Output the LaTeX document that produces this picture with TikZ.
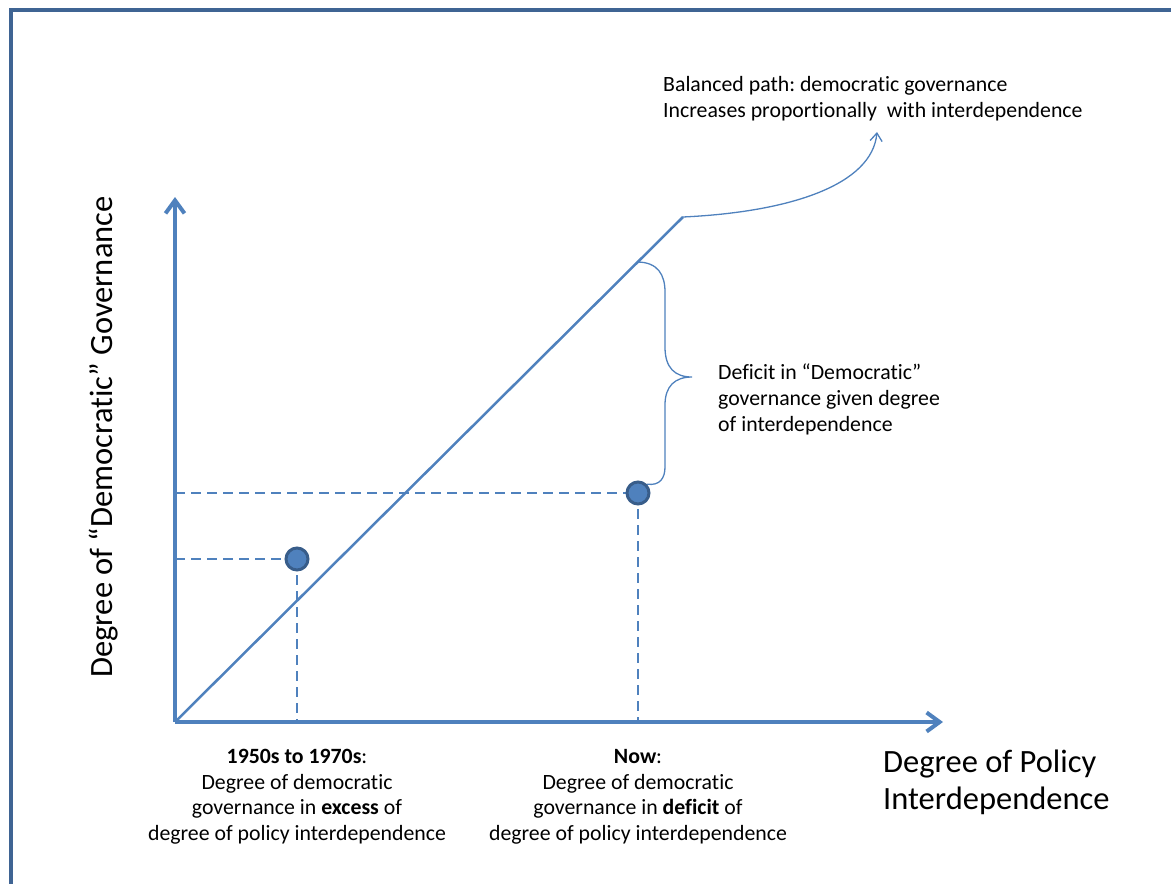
\documentclass[tikz,border=0pt]{standalone}
\usepackage{fontspec}
\setmainfont{Carlito}[Ligatures=NoCommon]
\frenchspacing
\usetikzlibrary{arrows.meta, positioning}
\definecolor{axisblue}{HTML}{4F81BD}
\definecolor{dotedge}{HTML}{385D8A}
\definecolor{frameblue}{HTML}{3F6493}

\begin{document}
\begin{tikzpicture}[x=1pt, y=-1pt,
  axis/.style={draw=axisblue, line width=4pt,
    -{Straight Barb[length=13pt, width=19pt, line width=4pt]}},
  guide/.style={draw=axisblue, line width=2.8pt, dash pattern=on 10pt off 6pt},
  thinline/.style={draw=axisblue, line width=1.3pt},
  dot/.style={circle, fill=axisblue, draw=dotedge, line width=3pt,
    minimum size=22pt, inner sep=0pt},
  small/.style={font=\fontsize{21.8}{25.7}\selectfont, inner sep=0pt},
  big/.style={font=\fontsize{32.5}{37}\selectfont, inner sep=0pt}]
\useasboundingbox (0,0) rectangle (1171,884);
% frame
\draw[frameblue, line width=4pt] (10.5,950) -- (10.5,9.5) -- (1250,9.5);

% axes
\coordinate (O) at (175,722);
\coordinate (ytip) at (175,197);
\coordinate (xtip) at (943,722);
\draw[axis] (O) -- (ytip);
\draw[axis] (O) -- (xtip);

% balanced path
\coordinate (pathend) at (683,217);
\draw[axisblue, line width=2.5pt] (O) -- (pathend);

% the two observations
\coordinate (c1) at (297,559);
\coordinate (c2) at (638,493);
\draw[guide] (175,559) -- (c1);
\draw[guide] (c1) -- (297,722);
\draw[guide] (175,493) -- (c2);
\draw[guide] (c2) -- (638,722);
\node[dot] (p1) at (c1) {};
\node[dot] (p2) at (c2) {};

% callout arrow
\coordinate (calltip) at (877,132);
\draw[thinline, -{Straight Barb[length=8pt, width=12pt, line width=1.3pt]}]
  (pathend) .. controls (790,212) and (872,185) .. (calltip);

% brace
\coordinate (bracetop) at (637,262);
\coordinate (bracetip) at (692,377);
\draw[thinline] (bracetop) .. controls (658,262) and (665,275) .. (665,292)
  -- (665,347) .. controls (665,368) and (675,377) .. (bracetip)
  .. controls (675,377) and (665,386) .. (665,405)
  -- (665,467) .. controls (665,478) and (660,486) .. (p2.north east);

% texts
\node[small, align=left, anchor=north west] (balanced) at (663,76)
  {Balanced path: democratic governance\\
   Increases proportionally\ \ with interdependence};
\node[small, align=left, anchor=north west] (deficit) at (718,364)
  {Deficit in “Democratic”\\
   governance given degree\\
   of interdependence};
\node[small, align=center, anchor=north] (past) at (297,749)
  {\textbf{1950s to 1970s}:\\
   Degree of democratic\\
   governance in \textbf{excess} of\\
   degree of policy interdependence};
\node[small, align=center, anchor=north] (now) at (638,749)
  {\textbf{Now}:\\
   Degree of democratic\\
   governance in \textbf{deficit} of\\
   degree of policy interdependence};
\node[big, align=left, anchor=north west] (xlabel) at (883,750)
  {Degree of Policy\\ Interdependence};
\node[big, rotate=90] (ylabel) at (104,437)
  {Degree of “Democratic” Governance};
\end{tikzpicture}
\end{document}
